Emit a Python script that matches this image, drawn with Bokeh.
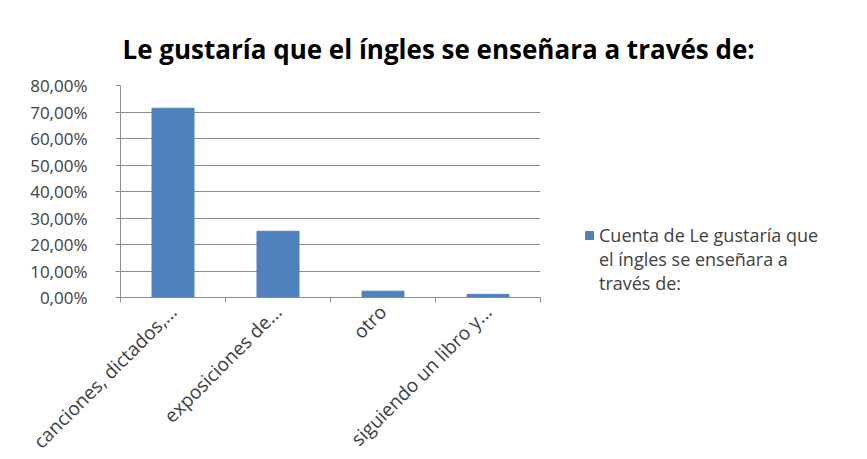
import math
from bokeh.plotting import figure
from bokeh.models import (Range1d, FixedTicker, LinearAxis, Legend, LegendItem, Title)
from bokeh.embed import file_html
from bokeh.resources import INLINE

categories = ["canciones, dictados,...", "exposiciones de...", "otro", "siguiendo un libro y..."]
values = [71.43, 25.00, 2.38, 1.19]
y_ticks = [0, 10, 20, 30, 40, 50, 60, 70, 80]
y_tick_labels = ["0,00%", "10,00%", "20,00%", "30,00%", "40,00%", "50,00%", "60,00%", "70,00%", "80,00%"]
series_lines = ["Cuenta de Le gustaría que", "el íngles se enseñara a", "través de:"]
title_text = "Le gustaría que el íngles se enseñara a través de:"

FONT = "Open Sans"
TXT = "#404040"
GRID = "#8c8c8c"
BAR = "#4F81BD"

n = len(categories)
centers = [i + 0.5 for i in range(n)]
bounds = list(range(n + 1))

p = figure(frame_width=420, frame_height=212, output_backend="svg", toolbar_location=None,
           x_range=Range1d(0, n), y_range=Range1d(0, 80),
           min_border_left=120, min_border_right=20, min_border_top=85, min_border_bottom=146,
           x_axis_type=None)
p.outline_line_color = None
p.background_fill_color = "white"
p.border_fill_color = "white"

r = p.vbar(x=centers, top=values, width=0.4, fill_color=BAR, line_color=BAR)
# invisible renderer used only for the continuation lines of the legend label
r_blank = p.vbar(x=[], top=[], width=0.4, fill_alpha=0, line_alpha=0)

# y axis
ya = p.yaxis[0]
ya.ticker = FixedTicker(ticks=y_ticks)
ya.major_label_overrides = {t: l for t, l in zip(y_ticks, y_tick_labels)}
ya.axis_line_color = GRID
ya.major_tick_line_color = GRID
ya.major_tick_out = 5
ya.major_tick_in = 0
ya.minor_tick_line_color = None
ya.major_label_text_font = FONT
ya.major_label_text_font_size = "17px"
ya.major_label_text_color = TXT
ya.major_label_standoff = 28

p.ygrid.ticker = FixedTicker(ticks=y_ticks)
p.ygrid.grid_line_color = GRID
p.ygrid.grid_line_width = 1
p.xgrid.grid_line_color = None

# x axis: boundary ticks
xa1 = LinearAxis(ticker=FixedTicker(ticks=bounds),
                 major_label_overrides={b: "" for b in bounds},
                 axis_line_color=GRID, major_tick_line_color=GRID,
                 major_tick_out=5, major_tick_in=0, minor_tick_line_color=None,
                 major_label_text_font_size="1px", major_label_standoff=0)
p.add_layout(xa1, "below")
# x axis: category labels
xa2 = LinearAxis(ticker=FixedTicker(ticks=centers),
                 major_label_overrides={c: l for c, l in zip(centers, categories)},
                 axis_line_color=None, major_tick_line_color=None, minor_tick_line_color=None,
                 major_label_orientation=math.pi / 4,
                 major_label_text_font=FONT, major_label_text_font_size="19px",
                 major_label_text_color=TXT, major_label_standoff=0)
p.add_layout(xa2, "below")

# title
t = Title(text=title_text, align="left", offset=2, text_font=FONT,
          text_font_size="26px", text_font_style="bold", text_color="#000000", standoff=38)
p.add_layout(t, "above")

items = [LegendItem(label=series_lines[0], renderers=[r])]
items += [LegendItem(label=s, renderers=[r_blank]) for s in series_lines[1:]]
legend = Legend(items=items,
                location=(44, 2), padding=0, margin=0, spacing=0, border_line_color=None,
                background_fill_alpha=0, label_text_font=FONT, label_text_font_size="18px",
                label_text_color=TXT, glyph_width=10, glyph_height=10, label_standoff=5,
                label_height=22)
p.add_layout(legend, "right")

open("out.html", "w").write(file_html(p, INLINE))
